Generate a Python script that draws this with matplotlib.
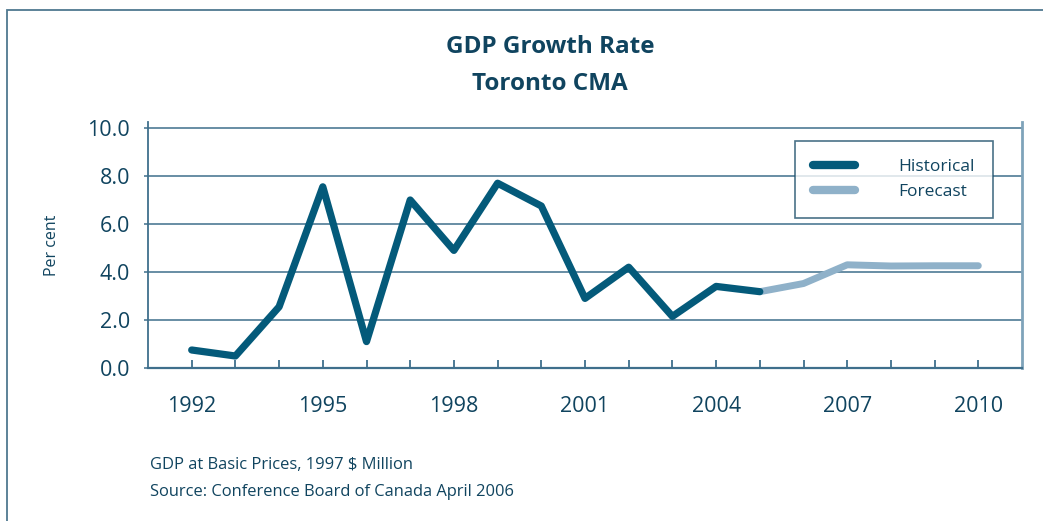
import matplotlib
matplotlib.use("Agg")
import matplotlib.pyplot as plt
from matplotlib.patches import Rectangle

plt.rcParams['font.family'] = ['Open Sans', 'DejaVu Sans']

# GDP growth, Toronto CMA (per cent)
hist_years = [1992, 1993, 1994, 1995, 1996, 1997, 1998, 1999, 2000, 2001, 2002, 2003, 2004, 2005]
hist_values = [0.75, 0.5, 2.55, 7.55, 1.1, 7.0, 4.9, 7.7, 6.75, 2.9, 4.2, 2.15, 3.4, 3.18]
fc_years = [2005, 2006, 2007, 2008, 2009, 2010]
fc_values = [3.18, 3.52, 4.3, 4.25, 4.26, 4.26]

year_ticks = list(range(1992, 2011))
labelled_years = [1992, 1995, 1998, 2001, 2004, 2007, 2010]
y_ticks = [0, 2, 4, 6, 8, 10]

DARK = '#045a7a'
LIGHT = '#8fb1c9'
TEXT = '#10445f'
GRID = '#3f6f8c'

W, H = 1043, 521
fig = plt.figure(figsize=(W / 100, H / 100), dpi=100)

# outer frame of the panel
fig.patches.append(Rectangle((7 / W, -0.1), 1.2, 1 - 10 / H + 0.1, transform=fig.transFigure,
                             fill=False, edgecolor='#4f7890', linewidth=1.3))

top_px = 122
ax = fig.add_axes([148 / W, 1 - 368 / H, (1022 - 148) / W, (368 - top_px) / H])
ymax = (368 - top_px) / 24.0
ax.set_xlim(1991, 2011)
ax.set_ylim(0, ymax)

ax.plot(fc_years, fc_values, color=LIGHT, linewidth=5, solid_capstyle='round',
        solid_joinstyle='round', label='Forecast', zorder=3)
ax.plot(hist_years, hist_values, color=DARK, linewidth=5.2, solid_capstyle='round',
        solid_joinstyle='round', label='Historical', zorder=4)

for v in y_ticks[1:]:
    ax.axhline(v, color=GRID, linewidth=1.1, zorder=1)

ax.spines['top'].set_visible(False)
ax.spines['left'].set_color(GRID)
ax.spines['bottom'].set_color(GRID)
ax.spines['right'].set_color('#7fa3ba')
ax.spines['left'].set_linewidth(1.3)
ax.spines['bottom'].set_linewidth(1.6)
ax.spines['right'].set_linewidth(2)

ax.set_xticks(year_ticks)
ax.set_xticklabels([str(y) if y in labelled_years else '' for y in year_ticks])
ax.tick_params(axis='x', direction='in', length=6, width=1.3, color=GRID,
               labelsize=15.5, labelcolor=TEXT, pad=20)
ax.set_yticks(y_ticks)
ax.set_yticklabels([f'{v:.1f}' for v in y_ticks])
ax.tick_params(axis='y', direction='out', length=3, width=1.1, color=GRID,
               labelsize=15.5, labelcolor=TEXT, pad=10)

fig.text(52 / W, 1 - 245 / H, 'Per cent', rotation=90, ha='center', va='center',
         color=TEXT, fontsize=11.5)

handles, labels = ax.get_legend_handles_labels()
leg = ax.legend(handles[::-1], labels[::-1], loc='upper right',
                bbox_to_anchor=(993 / W, 1 - 141 / H), bbox_transform=fig.transFigure,
                frameon=True, fancybox=False, fontsize=12.5, handlelength=2.4,
                handletextpad=2.5, borderpad=1.05, labelspacing=0.5, borderaxespad=0)
leg.get_frame().set_edgecolor('#1d4f6a')
leg.get_frame().set_linewidth(1.2)
leg.set_zorder(6)
for t in leg.get_texts():
    t.set_color(TEXT)
for line in leg.get_lines():
    line.set_linewidth(6)

fig.text(550 / W, 1 - 47 / H, 'GDP Growth Rate', ha='center', va='center',
         fontsize=17.5, fontweight='bold', color=TEXT)
fig.text(550 / W, 1 - 84 / H, 'Toronto CMA', ha='center', va='center',
         fontsize=17.5, fontweight='bold', color=TEXT)

fig.text(150 / W, 1 - 465 / H, 'GDP at Basic Prices, 1997 $ Million', ha='left', va='center',
         fontsize=11.9, color=TEXT)
fig.text(150 / W, 1 - 492 / H, 'Source: Conference Board of Canada April 2006', ha='left',
         va='center', fontsize=11.9, color=TEXT)

fig.savefig('out.png', dpi=100)
